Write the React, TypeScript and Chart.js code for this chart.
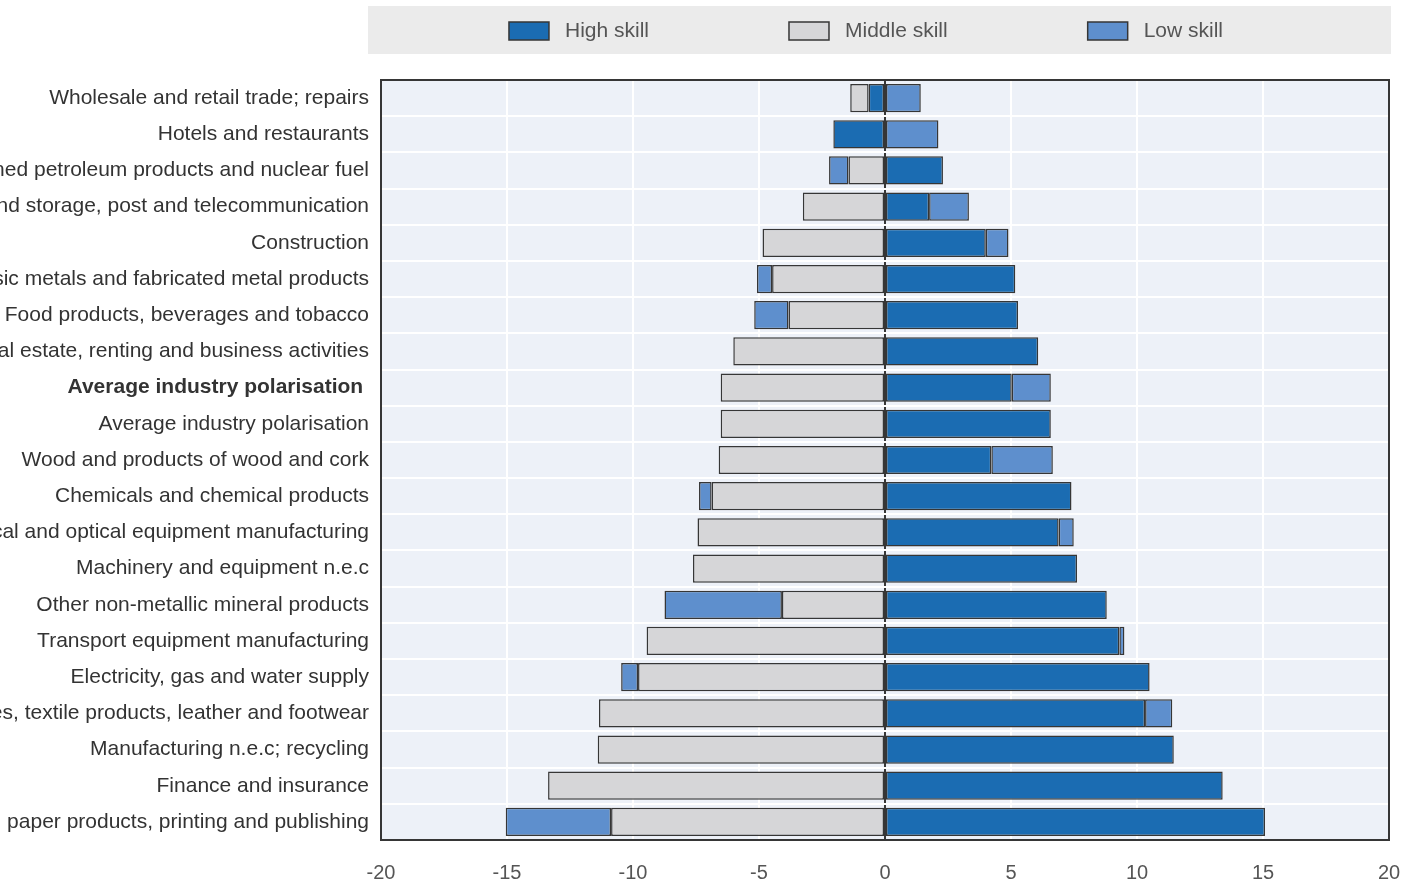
import React, { useEffect, useRef } from "react";
import { Chart, registerables } from "chart.js";

Chart.register(...registerables);

const categories = [
  "Wholesale and retail trade; repairs",
  "Hotels and restaurants",
  "Coke, refined petroleum products and nuclear fuel",
  "Transport and storage, post and telecommunication",
  "Construction",
  "Basic metals and fabricated metal products",
  "Food products, beverages and tobacco",
  "Real estate, renting and business activities",
  "Average industry polarisation ",
  "Average industry polarisation",
  "Wood and products of wood and cork",
  "Chemicals and chemical products",
  "Electrical and optical equipment manufacturing",
  "Machinery and equipment n.e.c",
  "Other non-metallic mineral products",
  "Transport equipment manufacturing",
  "Electricity, gas and water supply",
  "Textiles, textile products, leather and footwear",
  "Manufacturing n.e.c; recycling",
  "Finance and insurance",
  "Pulp, paper, paper products, printing and publishing",
];

const highSkill = [
  -0.65, -2.05, 2.3, 1.75, 4.0, 5.17, 5.28, 6.08, 5.03, 6.58, 4.22, 7.4, 6.89, 7.62, 8.8, 9.3,
  10.5, 10.32, 11.46, 13.4, 15.08,
];
const middleSkill = [
  -0.73, 0, -1.45, -3.26, -4.86, -4.48, -3.83, -6.02, -6.52, -6.52, -6.6, -6.88, -7.44, -7.62,
  -4.09, -9.46, -9.8, -11.35, -11.4, -13.37, -10.87,
];
const lowSkill = [
  1.42, 2.12, -0.77, 1.58, 0.9, -0.6, -1.36, 0, 1.55, 0, 2.44, -0.5, 0.6, 0, -4.66, 0.2, -0.67,
  1.08, 0, 0, -4.18,
];

const seriesNames = ["High skill", "Middle skill", "Low skill"];
const seriesColors = ["#1b6cb2", "#d6d6d8", "#5e8fcd"];
const boldIndex = 8;

const X_MIN = -20;
const X_MAX = 20;
const X_STEP = 5;

const FONT = '"Liberation Sans Narrow", "Arial Narrow", "Liberation Sans", Arial, sans-serif';
const PLOT_BG = "#edf1f8";
const BORDER = "#363636";

const plotBackground = {
  id: "plotBackground",
  beforeDraw(chart: any) {
    const { ctx, chartArea } = chart;
    ctx.save();
    ctx.fillStyle = PLOT_BG;
    ctx.fillRect(chartArea.left, chartArea.top, chartArea.right - chartArea.left, chartArea.bottom - chartArea.top);
    ctx.restore();
  },
  afterDraw(chart: any) {
    const { ctx, chartArea } = chart;
    ctx.save();
    ctx.strokeStyle = BORDER;
    ctx.lineWidth = 2;
    ctx.strokeRect(chartArea.left, chartArea.top, chartArea.right - chartArea.left, chartArea.bottom - chartArea.top);
    ctx.restore();
  },
};

const customLegend = {
  id: "customLegend",
  afterDraw(chart: any) {
    const { ctx, chartArea } = chart;
    ctx.save();
    const bgLeft = chartArea.left - 13;
    const bgRight = chartArea.right + 2;
    ctx.fillStyle = "#ebebeb";
    ctx.fillRect(bgLeft, 6, bgRight - bgLeft, 48);
    ctx.font = `21px ${FONT}`;
    ctx.textBaseline = "middle";
    const boxW = 40;
    const boxH = 18;
    const gapText = 16;
    const gapItem = 140;
    const widths = chart.data.datasets.map((d: any) => boxW + gapText + ctx.measureText(d.label).width);
    const total = widths.reduce((a: number, b: number) => a + b, 0) + gapItem * (widths.length - 1);
    const center = (chartArea.left + chartArea.right) / 2 - 19;
    let x = center - total / 2;
    const cy = 31;
    chart.data.datasets.forEach((d: any, i: number) => {
      ctx.fillStyle = d.backgroundColor;
      ctx.fillRect(x, cy - boxH / 2, boxW, boxH);
      ctx.strokeStyle = BORDER;
      ctx.lineWidth = 1.5;
      ctx.strokeRect(x, cy - boxH / 2, boxW, boxH);
      ctx.fillStyle = "#555555";
      ctx.fillText(d.label, x + boxW + gapText, cy);
      x += widths[i] + gapItem;
    });
    ctx.restore();
  },
};

export default function App() {
  const canvasRef = useRef<HTMLCanvasElement | null>(null);

  useEffect(() => {
    if (!canvasRef.current) return;
    const values = [highSkill, middleSkill, lowSkill];
    const chart = new Chart(canvasRef.current, {
      type: "bar",
      data: {
        labels: categories,
        datasets: values.map((v, i) => ({
          label: seriesNames[i],
          data: v,
          backgroundColor: seriesColors[i],
          borderColor: BORDER,
          borderWidth: 1.5,
          borderSkipped: false,
          categoryPercentage: 1,
          barPercentage: 0.78,
        })),
      },
      options: {
        indexAxis: "y",
        animation: false,
        responsive: false,
        layout: { padding: { top: 80, right: 20, left: 0, bottom: 0 } },
        plugins: {
          legend: { display: false },
          tooltip: { enabled: false },
        },
        scales: {
          x: {
            type: "linear",
            stacked: true,
            min: X_MIN,
            max: X_MAX,
            border: { display: false },
            ticks: {
              stepSize: X_STEP,
              padding: 0,
              color: "#555555",
              font: { family: FONT, size: 20 },
            },
            grid: {
              drawTicks: true,
              tickLength: 21,
              tickColor: "rgba(0,0,0,0)",
              color: (c: any) => (c.tick && c.tick.value === 0 ? BORDER : "#ffffff"),
              lineWidth: 2,
            },
            afterFit: (scale: any) => {
              scale.height = 45;
            },
          },
          y: {
            type: "category",
            stacked: true,
            border: { display: false },
            ticks: {
              padding: 12,
              color: "#333333",
              autoSkip: false,
              font: (c: any) => ({
                family: FONT,
                size: 21,
                weight: c.index === boldIndex ? "bold" : "normal",
              }),
            },
            grid: {
              drawTicks: false,
              color: "#ffffff",
              lineWidth: 2,
            },
            afterFit: (scale: any) => {
              scale.width = 381;
            },
          },
        },
      },
      plugins: [plotBackground, customLegend],
    });
    return () => chart.destroy();
  }, []);

  return (
    <div style={{ position: "absolute", left: 0, top: 0, width: 1409, height: 885, background: "#ffffff" }}>
      <canvas ref={canvasRef} width={1409} height={885} style={{ display: "block" }} />
    </div>
  );
}
